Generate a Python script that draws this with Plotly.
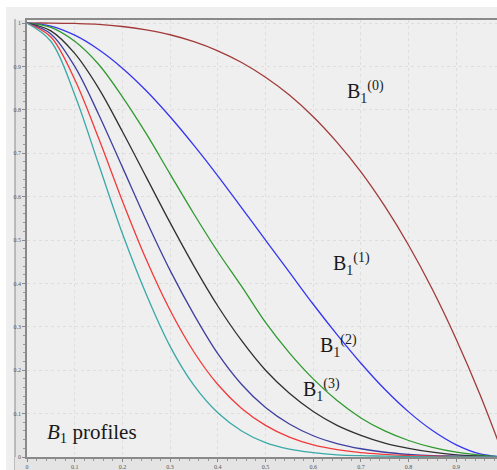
import plotly.graph_objects as go

# ---- data ----
x_vals = [0, 0.05, 0.1, 0.15, 0.2, 0.25, 0.3, 0.35, 0.4, 0.45, 0.5,
          0.55, 0.6, 0.65, 0.7, 0.75, 0.8, 0.85, 0.9, 0.95, 1.0]

b0 = [1.0, 1.0, 0.999, 0.997, 0.992, 0.984, 0.973, 0.957, 0.936, 0.909, 0.875,
      0.834, 0.784, 0.725, 0.657, 0.578, 0.488, 0.386, 0.271, 0.143, 0.0]
b1 = [1.0, 0.993, 0.972, 0.939, 0.896, 0.844, 0.784, 0.718, 0.648, 0.574, 0.5,
      0.426, 0.352, 0.282, 0.216, 0.156, 0.104, 0.061, 0.028, 0.007, 0.0]
b2 = [1.0, 0.99, 0.958, 0.905, 0.83, 0.745, 0.652, 0.56, 0.473, 0.393, 0.31,
      0.24, 0.18, 0.13, 0.09, 0.06, 0.038, 0.022, 0.011, 0.004, 0.0]
b3 = [1.0, 0.982, 0.93, 0.85, 0.75, 0.645, 0.54, 0.44, 0.348, 0.268, 0.2,
      0.147, 0.105, 0.073, 0.05, 0.032, 0.02, 0.011, 0.005, 0.002, 0.0]
b4 = [1.0, 0.975, 0.9, 0.79, 0.668, 0.545, 0.43, 0.328, 0.238, 0.167, 0.114,
      0.076, 0.049, 0.031, 0.019, 0.011, 0.006, 0.003, 0.002, 0.001, 0.0]
b5 = [1.0, 0.968, 0.87, 0.735, 0.59, 0.455, 0.338, 0.242, 0.167, 0.112, 0.073,
      0.046, 0.028, 0.017, 0.01, 0.006, 0.003, 0.002, 0.001, 0.0, 0.0]
b6 = [1.0, 0.958, 0.835, 0.675, 0.515, 0.375, 0.255, 0.165, 0.102, 0.06, 0.033,
      0.018, 0.01, 0.005, 0.003, 0.002, 0.001, 0.0, 0.0, 0.0, 0.0]

series = [b0, b1, b2, b3, b4, b5, b6]
colors = ["#a33a3a", "#3535f0", "#2f9a2f", "#303030", "#3f3f9f", "#f03a3a", "#3aa8a8"]

labels = ["B<sub>1</sub><sup>(0)</sup>", "B<sub>1</sub><sup>(1)</sup>",
          "B<sub>1</sub><sup>(2)</sup>", "B<sub>1</sub><sup>(3)</sup>"]
label_pos = [(0.71, 0.84), (0.68, 0.445), (0.652, 0.255), (0.618, 0.155)]

tick_vals = [0, 0.1, 0.2, 0.3, 0.4, 0.5, 0.6, 0.7, 0.8, 0.9, 1]
tick_text = ["0", "0.1", "0.2", "0.3", "0.4", "0.5", "0.6", "0.7", "0.8", "0.9", "1"]

W, H = 497, 470
ML, MR, MT, MB = 27, 0, 20, 13

fig = go.Figure()
for ys, c in zip(series, colors):
    fig.add_trace(go.Scatter(x=x_vals, y=ys, mode="lines",
                             line=dict(color=c, width=1.3, shape="spline", smoothing=1.0),
                             hoverinfo="skip", showlegend=False))

for t, (ax, ay) in zip(labels, label_pos):
    fig.add_annotation(x=ax, y=ay, xref="x", yref="y", text=t, showarrow=False,
                       font=dict(family="Liberation Serif", size=20, color="#1a1a1a"))

fig.add_annotation(x=0.037, y=0.055, xref="x", yref="y", xanchor="left",
                   text="<i>B</i><sub>1</sub> profiles", showarrow=False,
                   font=dict(family="Liberation Serif", size=21, color="#1a1a1a"))

pw = W - ML - MR
ph = H - MT - MB
def px(p):
    return (p - ML) / pw
def py(p):
    return (H - MB - p) / ph

shapes = [
    dict(type="rect", xref="paper", yref="paper", x0=px(6), x1=px(W + 5),
         y0=py(H + 5), y1=py(7), fillcolor="#efefef", line=dict(width=0), layer="below"),
    dict(type="rect", xref="paper", yref="paper", x0=px(15), x1=px(27),
         y0=py(H + 5), y1=py(20), fillcolor="#e4e4e4", line=dict(width=0), layer="below"),
    dict(type="line", xref="paper", yref="paper", x0=px(15), x1=px(15),
         y0=py(H + 5), y1=py(19), line=dict(color="#9a9a9a", width=1.2), layer="below"),
    dict(type="rect", xref="paper", yref="paper", x0=px(15), x1=px(W + 5),
         y0=py(H + 5), y1=py(457), fillcolor="#e4e4e4", line=dict(width=0), layer="below"),
]
fig.update_layout(shapes=shapes)

fig.update_layout(
    width=W, height=H,
    margin=dict(l=ML, r=MR, t=MT, b=MB, pad=0),
    paper_bgcolor="white",
    plot_bgcolor="#f2f2f2",
    xaxis=dict(range=[0, 0.9853], tickvals=tick_vals, ticktext=tick_text,
               showgrid=True, gridcolor="#dedede", griddash="dot", gridwidth=1,
               zeroline=False, showline=True, linecolor="#8a8a8a", linewidth=1.5, mirror=True,
               ticks="outside", ticklen=3, tickcolor="#888", tickwidth=1,
               minor=dict(dtick=0.02, ticks="outside", ticklen=2, tickcolor="#999", showgrid=False),
               tickfont=dict(size=6, color="#555", family="Liberation Serif"), fixedrange=True),
    yaxis=dict(range=[0, 1.007], tickvals=tick_vals, ticktext=tick_text,
               showgrid=True, gridcolor="#dedede", griddash="dot", gridwidth=1,
               zeroline=False, showline=True, linecolor="#8a8a8a", linewidth=1.5,
               ticks="outside", ticklen=3, tickcolor="#888", tickwidth=1,
               minor=dict(dtick=0.02, ticks="outside", ticklen=2, tickcolor="#999", showgrid=False),
               tickfont=dict(size=6, color="#555", family="Liberation Serif"), fixedrange=True),
)

fig.write_html("out.html")
